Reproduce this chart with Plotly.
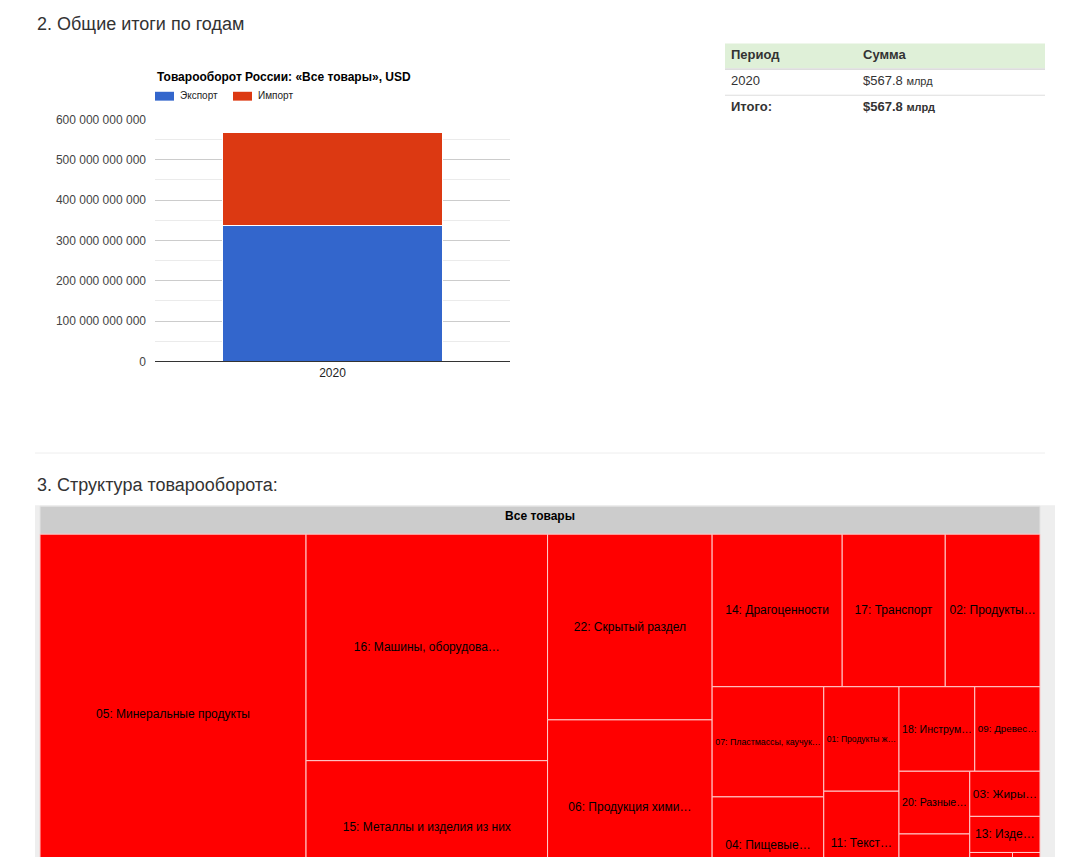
import plotly.graph_objects as go

W, H = 1085, 893          # figure size; the page body adds an 8px margin
OFF = 8                   # body margin offset (page px -> figure px)
FONT = "Liberation Sans"

# ---- data: bar chart ----
years = ["2020"]
export_usd = [336.6e9]
import_usd = [231.2e9]
series_names = ["Экспорт", "Импорт"]
series_colors = ["#3366cc", "#dc3912"]
ytick_vals = [0, 100e9, 200e9, 300e9, 400e9, 500e9, 600e9]
ytick_text = ["0", "100 000 000 000", "200 000 000 000", "300 000 000 000",
              "400 000 000 000", "500 000 000 000", "600 000 000 000"]

# ---- data: table ----
table_header = ["Период", "Сумма"]
table_periods = ["2020"]
table_sums = ["$567.8"]
table_total_label = "Итого:"
table_total_sum = "$567.8"
sum_unit = "млрд"

# ---- data: treemap (billions USD) ----
tm_root = "Все товары"
tm_labels = [
    "05: Минеральные продукты", "16: Машины, оборудова…", "15: Металлы и изделия из них",
    "22: Скрытый раздел", "06: Продукция хими…", "14: Драгоценности", "17: Транспорт",
    "02: Продукты…", "07: Пластмассы, каучук…", "04: Пищевые…", "01: Продукты ж…",
    "11: Текст…", "18: Инструм…", "09: Древес…", "20: Разные…", "10: Книги, бума…",
    "03: Жиры…", "13: Изде…", "12: Обувь…", "08: Кож…", "19: Ор…", "21: Пр…",
]
tm_values = [151.0, 86.3, 50.8, 48.2, 45.2, 31.3, 24.8, 22.8, 19.4, 17.1, 12.4,
             12.2, 10.1, 8.7, 7.0, 6.7, 5.0, 4.0, 2.8, 1.3, 0.3, 0.2]


def px_x(x):
    return (x - OFF) / W


def px_y(y):
    return 1 - (y - OFF) / H


fig = go.Figure()

# bars
for name, vals, col in zip(series_names, [export_usd, import_usd], series_colors):
    fig.add_trace(go.Bar(x=years, y=vals, name=name,
                         marker=dict(color=col, line=dict(color="white", width=1)),
                         width=0.617, showlegend=False, hoverinfo="skip"))

# treemap
n = len(tm_labels)
fig.add_trace(go.Treemap(
    ids=["root"] + tm_labels,
    labels=[f"<b>{tm_root}</b>"] + tm_labels,
    parents=[""] + ["root"] * n,
    values=[0] + tm_values,
    branchvalues="remainder",
    sort=True,
    marker=dict(colors=["#cccccc"] + ["#ff0000"] * n,
                line=dict(color=["#e4e4e4"] + ["#ffcccc"] * n, width=1),
                pad=dict(t=28, l=0, r=0, b=0)),
    textposition="middle center",
    textfont=dict(family=FONT, size=12, color="black"),
    pathbar=dict(visible=False),
    tiling=dict(packing="squarify", squarifyratio=1, pad=0),
    domain=dict(x=[px_x(40), px_x(1040)], y=[0, px_y(507)]),
    hoverinfo="skip",
))

shapes = []
annotations = []


def text(t, x, y, size, color, xanchor="left"):
    annotations.append(dict(text=t, x=px_x(x), y=px_y(y), xref="paper", yref="paper",
                            xanchor=xanchor, yanchor="middle", showarrow=False,
                            font=dict(family=FONT, size=size, color=color)))


# headings
text("2. Общие итоги по годам", 35, 17, 18, "#333333")
text("3. Структура товарооборота:", 35, 485, 18, "#333333")
# hr
shapes.append(dict(type="line", xref="paper", yref="paper", x0=px_x(35), x1=px_x(1045),
                   y0=px_y(453), y1=px_y(453), line=dict(color="#eeeeee", width=1)))

# chart title
text("<b>Товарооборот России: «Все товары», USD</b>", 155, 71, 12, "#000000")
# legend
leg_x = [155, 233]
for lx, name, col in zip(leg_x, series_names, series_colors):
    shapes.append(dict(type="rect", xref="paper", yref="paper", x0=px_x(lx), x1=px_x(lx + 19),
                       y0=px_y(95), y1=px_y(86), fillcolor=col, line=dict(width=0)))
    text(name, lx + 23, 90, 10, "#222222")

# table
tx0, tx1 = 725, 1045
col1, col2 = 729, 861
shapes.append(dict(type="rect", xref="paper", yref="paper", x0=px_x(tx0), x1=px_x(tx1),
                   y0=px_y(62), y1=px_y(37), fillcolor="#dff0d8", line=dict(width=0), layer="below"))
shapes.append(dict(type="rect", xref="paper", yref="paper", x0=px_x(tx0), x1=px_x(tx1),
                   y0=px_y(64), y1=px_y(62), fillcolor="#dddddd", line=dict(width=0), layer="below"))
shapes.append(dict(type="line", xref="paper", yref="paper", x0=px_x(tx0), x1=px_x(tx1),
                   y0=px_y(89.5), y1=px_y(89.5), line=dict(color="#dddddd", width=1)))
for hx, htxt in zip([col1, col2], table_header):
    text(f"<b>{htxt}</b>", hx, 48, 13, "#333333")
row_y = [75]
for ry, per, s in zip(row_y, table_periods, table_sums):
    text(per, col1, ry, 13, "#333333")
    text(f"{s} <span style='font-size:11px'>{sum_unit}</span>", col2, ry, 13, "#333333")
text(f"<b>{table_total_label}</b>", col1, 101, 13, "#333333")
text(f"<b>{table_total_sum}</b> <span style='font-size:11px'><b>{sum_unit}</b></span>", col2, 101, 13, "#333333")

# treemap frame background
shapes.append(dict(type="rect", xref="paper", yref="paper", x0=px_x(35), x1=px_x(1055), y0=0, y1=px_y(506),
                   fillcolor="#eeeeee", line=dict(width=0), layer="below"))

fig.update_layout(
    width=W, height=H,
    margin=dict(l=0, r=0, t=0, b=0),
    paper_bgcolor="white", plot_bgcolor="white",
    barmode="stack",
    showlegend=False,
    font=dict(family=FONT, size=12, color="#444444"),
    shapes=shapes, annotations=annotations,
    xaxis=dict(domain=[px_x(155), px_x(510)], showline=True, linecolor="#333333", linewidth=1,
               showgrid=False, ticks="", tickfont=dict(size=12, color="#222222"), fixedrange=True),
    yaxis=dict(domain=[px_y(360), px_y(114)], range=[0, 600e9], tickvals=ytick_vals, ticktext=ytick_text,
               showgrid=True, gridcolor="#cccccc", zeroline=False, ticks="",
               tickfont=dict(size=12, color="#444444"), ticklabelstandoff=8,
               minor=dict(dtick=50e9, tick0=0, showgrid=True, gridcolor="#ebebeb"), fixedrange=True),
)

fig.write_html("out.html")
